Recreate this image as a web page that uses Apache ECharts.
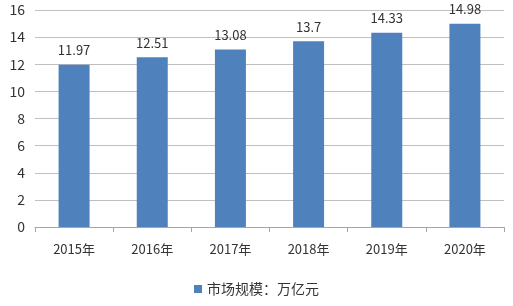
<!DOCTYPE html>
<html><head><meta charset="utf-8">
<script src="https://cdn.jsdelivr.net/npm/echarts@6/dist/echarts.min.js"></script>
<style>html,body{margin:0;padding:0;background:#fff}#c{width:513px;height:306px}</style>
</head><body><div id="c"></div>
<script>
const categories = ['2015年','2016年','2017年','2018年','2019年','2020年'];
const values = [11.97, 12.51, 13.08, 13.7, 14.33, 14.98];
const seriesName = '市场规模：万亿元';
const chart = echarts.init(document.getElementById('c'));
const font = '"Noto Sans CJK SC", "Liberation Sans", sans-serif';
chart.setOption({
  animation: false,
  textStyle: {fontFamily: font},
  grid: {left: 35, right: 9, top: 10, bottom: 79},
  legend: {
    bottom: 5, left: 'center', itemWidth: 8, itemHeight: 8, itemGap: 5,
    icon: 'rect',
    textStyle: {fontFamily: font, fontSize: 14, color: '#333'},
    data: [seriesName]
  },
  xAxis: {
    type: 'category', data: categories,
    axisLine: {lineStyle: {color: '#a6a6a6'}},
    axisTick: {show: true, length: 5, lineStyle: {color: '#a6a6a6'}},
    axisLabel: {color: '#333', fontSize: 13, margin: 16, fontFamily: font}
  },
  yAxis: {
    type: 'value', min: 0, max: 16, interval: 2,
    axisLine: {show: false}, axisTick: {show: false},
    splitLine: {lineStyle: {color: '#bfbfbf'}},
    axisLabel: {color: '#333', fontSize: 14, margin: 10, fontFamily: font}
  },
  series: [{
    name: seriesName, type: 'bar', data: values,
    barWidth: 31,
    itemStyle: {color: '#4f81bd'},
    label: {show: true, position: 'top', distance: 8, color: '#333', fontSize: 13, fontFamily: font}
  }]
});
</script></body></html>
